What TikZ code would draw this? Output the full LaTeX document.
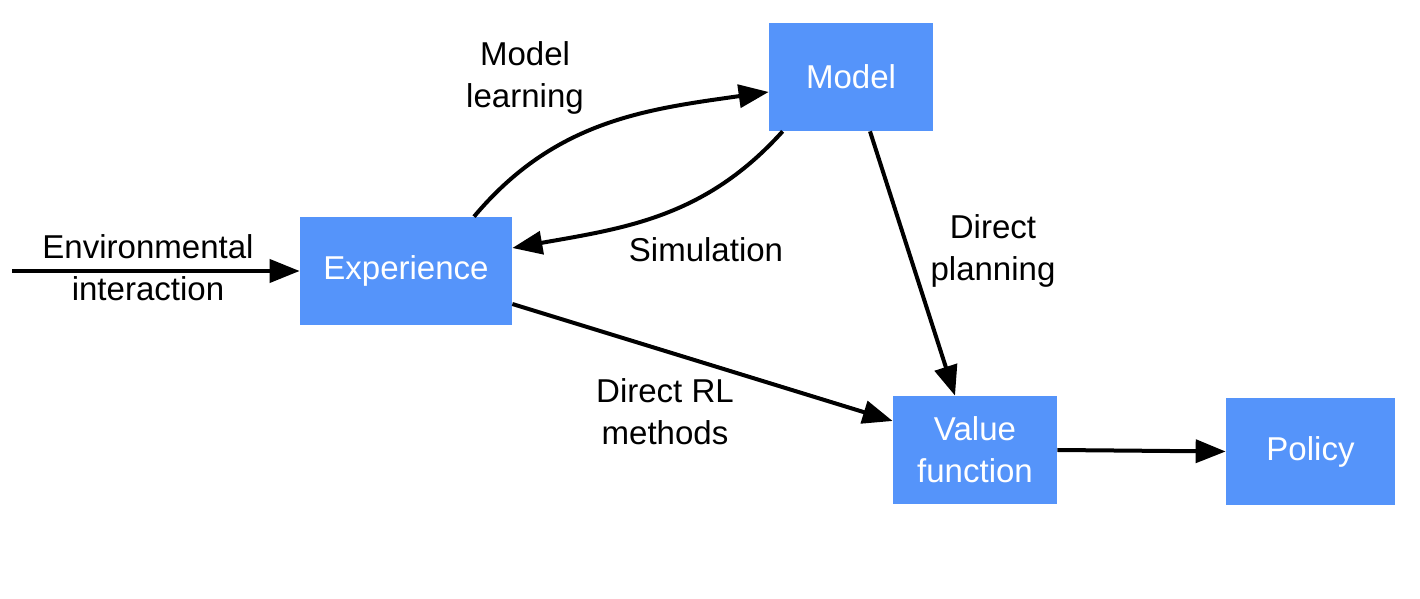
\documentclass[tikz,border=0pt]{standalone}
\usepackage{fontspec}
\setmainfont{Liberation Sans}
\usetikzlibrary{arrows.meta}
\definecolor{boxblue}{RGB}{85,148,250}
\begin{document}
\begin{tikzpicture}[
	font=\fontsize{18.8}{23.8}\selectfont,
	box/.style={fill=boxblue,text=white,align=center,inner sep=0pt},
	lbl/.style={align=center,inner sep=0pt},
	arr/.style={line width=0.08cm,-{Triangle[length=0.6cm,width=0.46cm]}}
	]
					
					\useasboundingbox (0,0) rectangle (28.4,11.98);
					
					\node[box,minimum width=4.24cm,minimum height=2.16cm] (Exp) at (8.12,6.56) {Experience};
					\node[box,minimum width=3.28cm,minimum height=2.16cm] (Model) at (17.02,10.44) {Model};
					\node[box,minimum width=3.28cm,minimum height=2.16cm] (Value) at (19.5,2.98) {Value\\function};
					\node[box,minimum width=3.38cm,minimum height=2.14cm] (Policy) at (26.21,2.95) {Policy};
					
					\coordinate (Env) at (0.24,6.56);
					\draw[arr] (Env) -- (Exp.west);
					\node[lbl] (EnvLbl) at (2.96,6.62) {Environmental\\interaction};
					
					\draw[arr] ([xshift=1.36cm]Exp.north) to[out=50,in=188] ([yshift=-0.3cm]Model.west);
					\node[lbl] (LearnLbl) at (10.5,10.42) {Model\\learning};
					
					\draw[arr] ([xshift=0.28cm]Model.south west) to[out=228,in=10] ([yshift=0.46cm]Exp.east);
					\node[lbl] (SimLbl) at (14.12,6.98) {Simulation};
					
					\draw[arr] ([xshift=0.38cm]Model.south) -- ([xshift=-0.4cm]Value.north);
					\node[lbl] (PlanLbl) at (19.86,6.96) {Direct\\planning};
					
					\draw[arr] ([yshift=-0.66cm]Exp.east) -- ([yshift=0.58cm]Value.west);
					\node[lbl] (RLLbl) at (13.3,3.74) {Direct RL\\methods};
					
					\draw[arr] (Value.east) -- (Policy.west);
					\end{tikzpicture}
\end{document}
